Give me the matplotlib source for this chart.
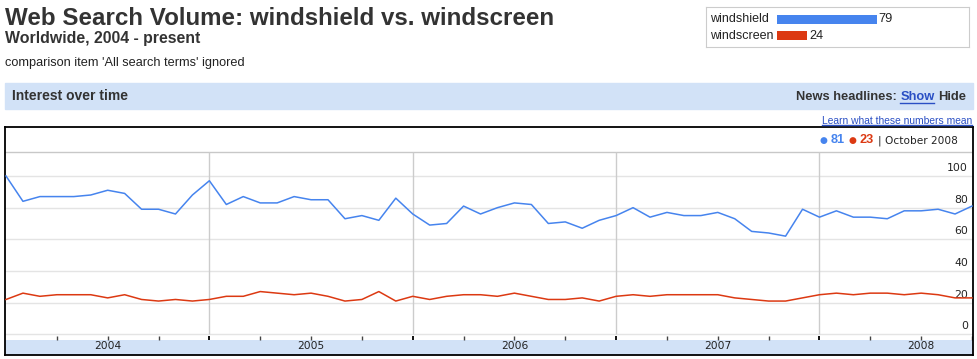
import matplotlib
matplotlib.use("Agg")
import matplotlib.pyplot as plt
import numpy as np
from matplotlib.lines import Line2D

# monthly search volume, Jan 2004 .. Oct 2008
windshield = [100, 84, 87, 87, 87, 88, 91, 89, 79, 79, 76, 88,
              97, 82, 87, 83, 83, 87, 85, 85, 73, 75, 72, 86,
              76, 69, 70, 81, 76, 80, 83, 82, 70, 71, 67, 72,
              75, 80, 74, 77, 75, 75, 77, 73, 65, 64, 62, 79,
              74, 78, 74, 74, 73, 78, 78, 79, 76, 81]
windscreen = [22, 26, 24, 25, 25, 25, 23, 25, 22, 21, 22, 21,
              22, 24, 24, 27, 26, 25, 26, 24, 21, 22, 27, 21,
              24, 22, 24, 25, 25, 24, 26, 24, 22, 22, 23, 21,
              24, 25, 24, 25, 25, 25, 25, 23, 22, 21, 21, 23,
              25, 26, 25, 26, 26, 25, 26, 25, 23, 23]
years = ["2004", "2005", "2006", "2007", "2008"]
yticks = [0, 20, 40, 60, 80, 100]
terms = ["windshield", "windscreen"]
averages = [79, 24]
latest = [81, 23]
latest_label = "October 2008"

BLUE = "#4684ee"
RED = "#dc3912"
BAND = "#d2e2f7"
LINK = "#2a4fc4"
W, H = 978, 359

plt.rcParams['font.family'] = ['Liberation Sans', 'DejaVu Sans']

fig = plt.figure(figsize=(W / 100, H / 100), dpi=100)


def fx(px):
    return px / W


def fy(py):
    return 1 - py / H


def underline(t, color):
    fig.canvas.draw()
    bb = t.get_window_extent()
    y = bb.y0 + 0.5
    fig.add_artist(Line2D([bb.x0 / W, bb.x1 / W], [y / H, y / H],
                          color=color, lw=1, transform=fig.transFigure))


# header texts
fig.text(fx(5), fy(25), "Web Search Volume: windshield vs. windscreen",
         fontsize=17.4, fontweight='bold', color='#333333', va='baseline')
fig.text(fx(5), fy(43.3), "Worldwide, 2004 - present",
         fontsize=11.4, fontweight='bold', color='#333333', va='baseline')
fig.text(fx(5), fy(65.7), "comparison item 'All search terms' ignored",
         fontsize=9.2, color='#222222', va='baseline')

# legend box with average bars
lx0, lx1, ly0, ly1 = 705.7, 969, 6.7, 47.3
lax = fig.add_axes([fx(lx0), fy(ly1), fx(lx1 - lx0), (ly1 - ly0) / H])
ppu = 100 / 79.0
lax.set_xlim(-(777 - lx0) / ppu, (lx1 - 777) / ppu)
lax.set_ylim(ly1 - ly0, 0)
for s in lax.spines.values():
    s.set_color('#cccccc')
lax.set_xticks([])
lax.set_yticks([])
rows = [19.2 - ly0, 35.6 - ly0]
lax.barh(rows, averages, height=9, color=[BLUE, RED], left=0)
for r, term, avg in zip(rows, terms, averages):
    lax.text(-(777 - 710) / ppu, r, term, fontsize=9, va='center', color='#222222')
    lax.text(avg + 1.5 / ppu, r, str(avg), fontsize=9.2, va='center', color='#222222')

# "Interest over time" band
fig.patches.append(plt.Rectangle((fx(5), fy(108.7)), fx(968), (108.7 - 83.3) / H,
                                 color=BAND, transform=fig.transFigure, zorder=0))
fig.text(fx(12), fy(100.5), "Interest over time", fontsize=10, fontweight='bold',
         color='#333333', va='baseline')
t_hide = fig.text(fx(966), fy(100), "Hide", fontsize=9.3, fontweight='bold',
                  color='#333333', va='baseline', ha='right')
fig.canvas.draw()
bb = t_hide.get_window_extent()
t_show = fig.text((bb.x0 - 3.5) / W, fy(100), "Show", fontsize=9.3, fontweight='bold',
                  color=LINK, va='baseline', ha='right')
fig.canvas.draw()
bb2 = t_show.get_window_extent()
fig.text((bb2.x0 - 3.5) / W, fy(100), "News headlines:", fontsize=9.3, fontweight='bold',
         color='#333333', va='baseline', ha='right')
underline(t_show, LINK)

t_learn = fig.text(fx(972.5), fy(123.8), "Learn what these numbers mean",
                   fontsize=7.4, color=LINK, va='baseline', ha='right')
underline(t_learn, LINK)

# main chart
x0, x1, y0, y1 = 5.3, 973, 126.7, 355
step = (972 - 6) / (len(windshield) - 1)
ppv = 1.583
zero = 334.3


def pv(py):
    return (zero - py) / ppv


def pi(px):
    return (px - 6) / step


ax = fig.add_axes([fx(x0), fy(y1), fx(x1 - x0), (y1 - y0) / H])
ax.set_xlim(pi(x0), pi(x1))
ax.set_ylim(pv(y1), pv(y0))
ax.set_xticks([])
ax.set_yticks([])
for s in ax.spines.values():
    s.set_color('black')
    s.set_linewidth(1.3)

xs = np.arange(len(windshield))
ax.axhspan(pv(y1), pv(340), color=BAND, lw=0, zorder=0)
ax.axhline(pv(151.7), color='#c8c8c8', lw=1, zorder=1)
for v in yticks:
    ax.axhline(v, color='#e4e4e4', lw=1, zorder=1)
    ax.text(pi(968), v + 3.2, str(v), fontsize=7.8, family='DejaVu Sans',
            ha='right', va='baseline', color='#222222', zorder=3)

for i, yr in enumerate(years):
    jan = 12 * i
    if jan > 0:
        ax.vlines(jan, 0, pv(151.7), color='#cccccc', lw=1, zorder=1)
        ax.vlines(jan, pv(340), pv(335.5), color='black', lw=1.3, zorder=2)
    ax.text(jan + 6, pv(349.3), yr, fontsize=7.7, family='DejaVu Sans',
            ha='center', va='baseline', color='#222222', zorder=3)
quarters = [q for q in range(3, len(windshield), 3) if q % 12]
ax.vlines(quarters, pv(340), pv(336), color='#444444', lw=1, zorder=2)

ax.plot(xs, windshield, color=BLUE, lw=1.1, zorder=4)
ax.plot(xs, windscreen, color=RED, lw=1.1, zorder=4)

# latest value annotation
ty = fy(143)
t_date = fig.text(fx(958), ty, "| " + latest_label, fontsize=7.6, family='DejaVu Sans',
                  color='#222222', va='baseline', ha='right')
fig.canvas.draw()
xr = t_date.get_window_extent().x0 - 4
for val, col in zip(latest[::-1], [RED, BLUE]):
    t = fig.text(xr / W, ty, str(val), fontsize=9.2, fontweight='bold', color=col,
                 va='baseline', ha='right')
    fig.canvas.draw()
    xr = t.get_window_extent().x0 - 3
    fig.text(xr / W, ty + 0.5 / H, "\u25cf", fontsize=6.5, family='DejaVu Sans',
             color=col, va='baseline', ha='right')
    xr -= 12

fig.savefig("out.png", dpi=100, facecolor='white')
